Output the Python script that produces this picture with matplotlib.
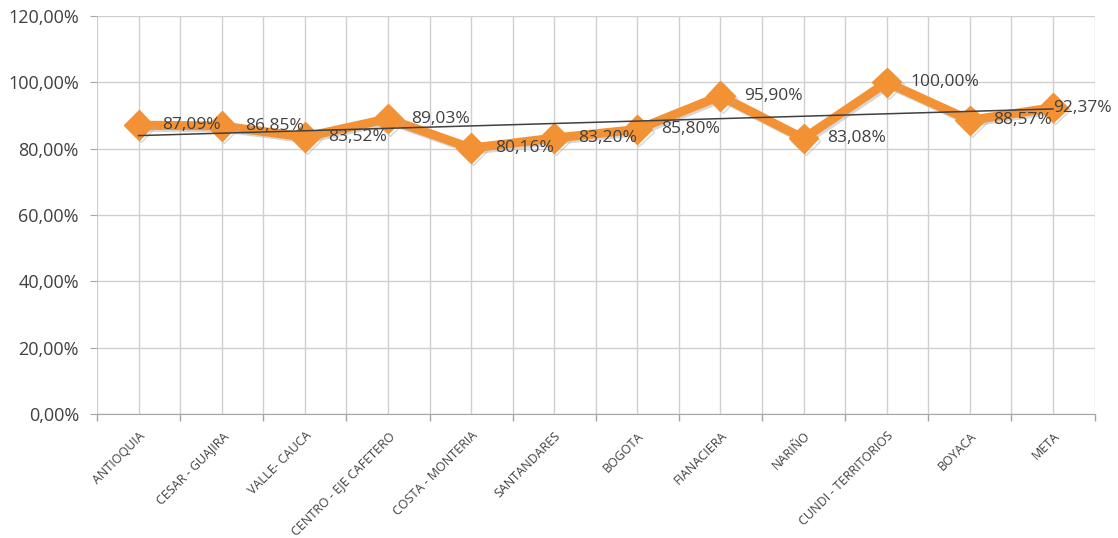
import numpy as np
import matplotlib
matplotlib.use("Agg")
import matplotlib.pyplot as plt
import matplotlib.patheffects as pe
from matplotlib.ticker import FuncFormatter, FixedLocator
from matplotlib.transforms import ScaledTranslation

categories = ["ANTIOQUIA", "CESAR - GUAJIRA", "VALLE- CAUCA", "CENTRO - EJE CAFETERO",
              "COSTA - MONTERIA", "SANTANDARES", "BOGOTA", "FIANACIERA", "NARIÑO",
              "CUNDI - TERRITORIOS", "BOYACA", "META"]
values = [87.09, 86.85, 83.52, 89.03, 80.16, 83.20, 85.80, 95.90, 83.08, 100.00, 88.57, 92.37]
y_ticks = [0, 20, 40, 60, 80, 100, 120]

plt.rcParams['font.family'] = ['Open Sans', 'DejaVu Sans']

fig = plt.figure(figsize=(11.18, 5.38), dpi=100)
ax = fig.add_axes([0.0868, 0.2305, 0.8922, 0.7397])

x = np.arange(len(categories))
orange = '#F39234'
ax.plot(x, values, color=orange, lw=6.5, marker='D', ms=15, mec=orange, mfc=orange,
        solid_joinstyle='miter', zorder=3,
        path_effects=[pe.SimpleLineShadow(offset=(1.5, -1.5), shadow_color='#b0b0b0', alpha=0.5), pe.Normal()])

# linear trendline
coef = np.polyfit(x, values, 1)
ax.plot(x, np.polyval(coef, x), color='#404040', lw=1.1, zorder=4)

n = len(values)
for i, (xi, v) in enumerate(zip(x, values)):
    # Excel keeps the last label inside the chart area
    dx = 0 if i == n - 1 else 17
    ax.annotate(f"{v:.2f}%".replace('.', ','), (xi, v), xytext=(dx, 0), textcoords='offset points',
                ha='left', va='center', fontsize=12.5, color='#404040', zorder=5)

ax.set_xlim(-0.5, len(categories) - 0.5)
ax.set_ylim(0, 120)
ax.set_yticks(y_ticks)
ax.yaxis.set_major_formatter(FuncFormatter(lambda v, p: f"{v:.2f}%".replace('.', ',')))

ax.xaxis.set_major_locator(FixedLocator(np.arange(-0.5, len(categories), 1.0)))
ax.xaxis.set_minor_locator(FixedLocator(x))
ax.set_xticklabels([], minor=False)
ax.set_xticklabels(categories, minor=True, rotation=45, ha='right', rotation_mode='anchor',
                   fontsize=9, color='#404040')
shift = ScaledTranslation(-4 / 100, 0, fig.dpi_scale_trans)
for lbl in ax.get_xticklabels(minor=True):
    lbl.set_transform(lbl.get_transform() + shift)
ax.tick_params(axis='x', which='major', length=5, color='#A6A6A6', width=1)
ax.tick_params(axis='x', which='minor', length=0, pad=11)
ax.tick_params(axis='y', length=5, color='#A6A6A6', labelsize=13, labelcolor='#404040', pad=8)

ax.grid(True, which='both', axis='x', color='#CFCFCF', lw=1)
ax.grid(True, which='major', axis='y', color='#CFCFCF', lw=1)
ax.set_axisbelow(True)
for s in ['top', 'right', 'left']:
    ax.spines[s].set_visible(False)
ax.spines['bottom'].set_color('#A6A6A6')

fig.savefig('out.png', dpi=100)
